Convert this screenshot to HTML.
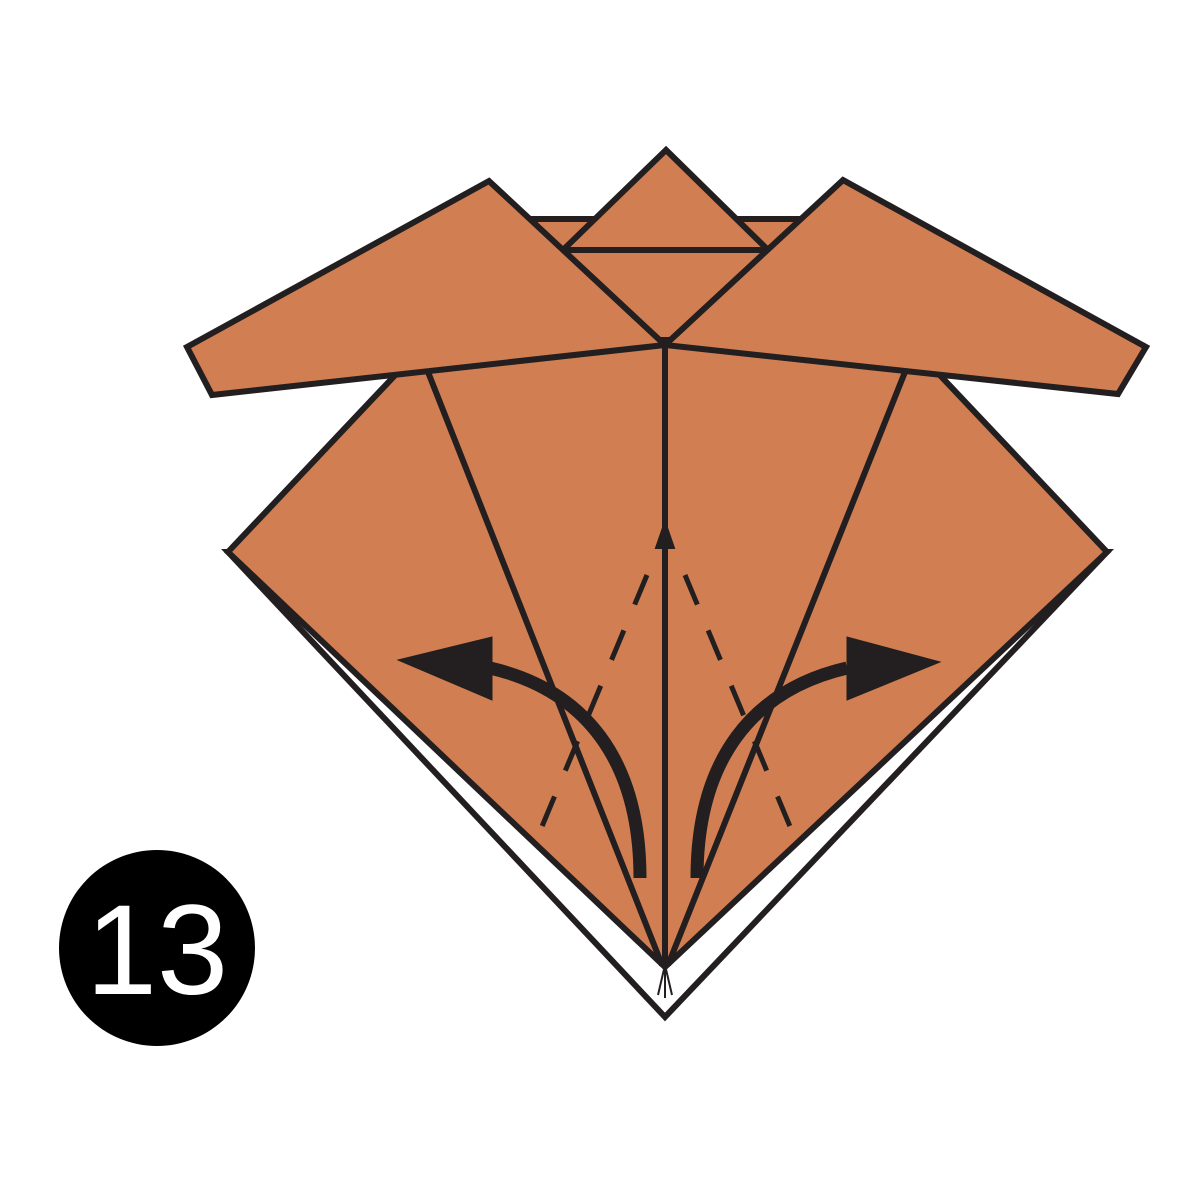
<!DOCTYPE html>
<html><head><meta charset="utf-8"><style>html,body{margin:0;padding:0;background:#fff}svg{display:block}</style></head>
<body>
<svg width="1200" height="1200" viewBox="0 0 1200 1200">
<g stroke="#231f20" stroke-width="6" stroke-linejoin="miter" fill="#d17f52">
  <polygon points="228,552 665,1017 1107,552" fill="#fff"/>
  <polygon points="228,552 428,340 907,340 1107,552 665,967" stroke="none"/>
  <polyline points="400,370 228,552 665,967 1107,552 935,370" fill="none"/>
  <polygon points="532,219 800,219 720,340 610,340"/>
  <polygon points="666,150 563,250 768,250"/>
  <polygon points="187,347 489,181 665,345 212,395"/>
  <polygon points="843,180 1146,347 1118,394 665,345"/>
  <line x1="665" y1="345" x2="665" y2="967" fill="none"/>
  <line x1="428" y1="372" x2="662" y2="965" fill="none"/>
  <line x1="905" y1="372" x2="668" y2="965" fill="none"/>
  <g stroke-dasharray="32,28" stroke-width="5" fill="none">
    <line x1="647" y1="575" x2="533" y2="848"/>
    <line x1="685" y1="575" x2="799" y2="848"/>
  </g>
  <polygon points="665,522 656,548 674,548" fill="#231f20" stroke-width="2"/>
  <g>
    <path d="M640 878 C640 760 585 690 490 668" fill="none" stroke-width="13"/>
    <polygon points="398,660 492,637 492,700" fill="#231f20" stroke-width="1"/>
  </g>
  <g>
    <path d="M697 878 C697 760 752 690 847 668" fill="none" stroke-width="13"/>
    <polygon points="940,662 847,637 847,700" fill="#231f20" stroke-width="1"/>
  </g>
  <g stroke-width="2">
    <line x1="665" y1="965" x2="658" y2="995"/><line x1="665" y1="965" x2="672" y2="995"/><line x1="665" y1="965" x2="665" y2="998"/>
  </g>
</g>
<g>
  <circle cx="157" cy="948" r="98" fill="#000"/>
  <text x="157" y="994" text-anchor="middle" fill="#fff" font-family="Liberation Sans, sans-serif" font-size="128">13</text>
</g>
</svg>
</body></html>
